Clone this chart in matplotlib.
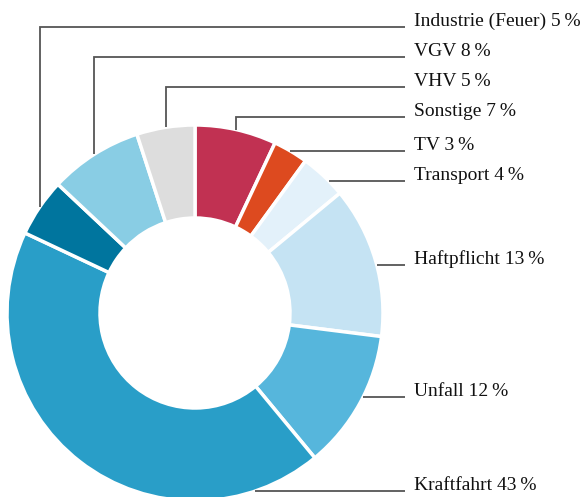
import numpy as np
import matplotlib
matplotlib.use("Agg")
import matplotlib.pyplot as plt

W, H = 583, 497

categories = ["Sonstige", "TV", "Transport", "Haftpflicht", "Unfall",
              "Kraftfahrt", "Industrie (Feuer)", "VGV", "VHV"]
values = [7, 3, 4, 13, 12, 43, 5, 8, 5]
colors = ["#C13152", "#DD4A1F", "#E3F1FA", "#C5E3F3", "#56B6DC",
          "#299EC8", "#00759E", "#89CDE4", "#DDDDDD"]
label_order = ["Industrie (Feuer)", "VGV", "VHV", "Sonstige", "TV",
               "Transport", "Haftpflicht", "Unfall", "Kraftfahrt"]
label_baseline_px = [27, 57, 87, 117, 151, 181, 265, 397, 491]
elbow = {"Industrie (Feuer)", "VGV", "VHV", "Sonstige"}

fig = plt.figure(figsize=(W / 100, H / 100), dpi=100)
ax = fig.add_axes([0, 0, 1, 1])

cx, cy = 195, H - 313
R, ring = 188, 93

wedges, _ = ax.pie(values, colors=colors, startangle=90, counterclock=False,
                   center=(cx, cy), radius=R, frame=True,
                   wedgeprops=dict(width=ring, edgecolor="white", linewidth=2.5))
ax.set_xlim(0, W)
ax.set_ylim(0, H)
ax.set_aspect("equal")
ax.axis("off")

line_end = 405
text_x = 414
lc = "#555555"
for name, by in zip(label_order, label_baseline_px):
    i = categories.index(name)
    w = wedges[i]
    mid = np.deg2rad((w.theta1 + w.theta2) / 2)
    y = H - by
    if name in elbow:
        px = cx + R * np.cos(mid)
        py = cy + R * np.sin(mid)
        ax.plot([px, px, line_end], [py, y, y], color=lc, lw=1.3,
                solid_capstyle="butt", solid_joinstyle="miter")
    else:
        dy = y - cy
        px = cx + np.sqrt(max(R ** 2 - dy ** 2, 0))
        ax.plot([px, line_end], [y, y], color=lc, lw=1.3, solid_capstyle="butt")
    ax.text(text_x, y + 1, f"{name} {values[i]}\u2009%", ha="left", va="baseline",
            fontsize=14, family=["Liberation Serif", "DejaVu Serif"],
            color="#111111")

fig.savefig("out.png", dpi=100)
